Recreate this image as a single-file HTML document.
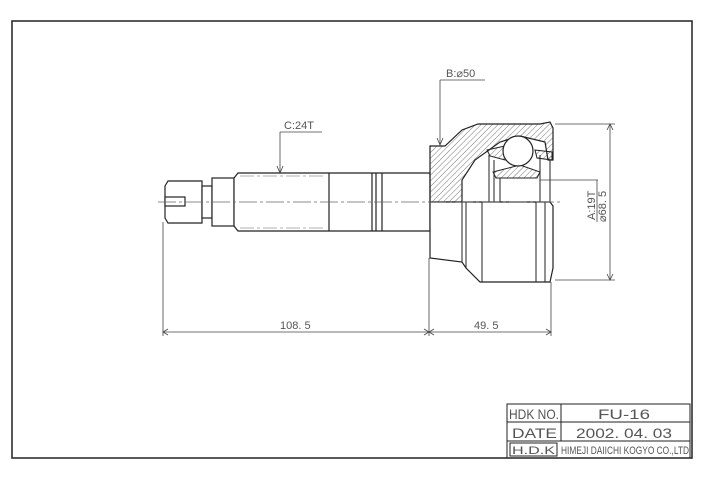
<!DOCTYPE html>
<html><head><meta charset="utf-8"><style>
html,body{margin:0;padding:0;background:#fff;}
svg{display:block;}
text{font-family:"Liberation Sans",sans-serif;fill:#555;}
</style></head><body>
<svg width="720" height="480" viewBox="0 0 720 480" xmlns="http://www.w3.org/2000/svg">
<defs>
<pattern id="h" patternUnits="userSpaceOnUse" width="4" height="4" patternTransform="rotate(45)">
<line x1="0" y1="0" x2="0" y2="4" stroke="#555" stroke-width="0.8"/>
</pattern>
</defs>
<rect x="12" y="21" width="680" height="437" fill="none" stroke="#222" stroke-width="1.5"/>
<!-- title block -->
<g stroke="#222" stroke-width="1" fill="none">
<rect x="507" y="404" width="183" height="54"/>
<line x1="507" y1="422" x2="690" y2="422"/>
<line x1="507" y1="441" x2="690" y2="441"/>
<line x1="561" y1="404" x2="561" y2="441"/>
<rect x="510" y="443" width="47" height="13"/>
</g>
<text x="509" y="419" font-size="14" textLength="50" lengthAdjust="spacingAndGlyphs">HDK NO.</text>
<text x="598" y="419" font-size="14" textLength="52" lengthAdjust="spacingAndGlyphs">FU-16</text>
<text x="512" y="438" font-size="14" textLength="45" lengthAdjust="spacingAndGlyphs">DATE</text>
<text x="576" y="438" font-size="14" textLength="96" lengthAdjust="spacingAndGlyphs">2002. 04. 03</text>
<text x="512" y="454" font-size="11" textLength="43" lengthAdjust="spacingAndGlyphs">H.D.K</text>
<text x="561" y="454" font-size="11" textLength="128" lengthAdjust="spacingAndGlyphs">HIMEJI DAIICHI KOGYO CO.,LTD</text>

<!-- shaft -->
<g stroke="#222" stroke-width="1.2" fill="#fff">
<path d="M168,181 L202,181 L202,223 L168,223 L165,218 L165,186 Z"/>
<rect x="202" y="186" width="10" height="32"/>
<rect x="212" y="178" width="22" height="48"/>
<path d="M234,178 L238,173 L430,173 L430,231 L238,231 L234,226 Z"/>
<line x1="329" y1="173" x2="329" y2="231"/>
<line x1="372" y1="173" x2="372" y2="231"/>
<line x1="376" y1="173" x2="376" y2="231"/>
<line x1="382" y1="173" x2="382" y2="231"/>
<rect x="165" y="197" width="20" height="9"/>
</g>
<g stroke="#999" stroke-width="0.7" stroke-dasharray="14,3,3,3">
<line x1="240" y1="176" x2="325" y2="176"/>
<line x1="240" y1="228" x2="325" y2="228"/>
</g>
<!-- joint -->
<path d="M430,146 L445,146 L462,130 L478,124 L540,124 L550,122 L553,128 L553,160 L548,160 L545,142 L520,136 L500,142 L475,160 L462,180 L462,202 L430,202 Z" fill="url(#h)" stroke="#222" stroke-width="1.2"/>
<path d="M430,202 L550,202 L553,206 L553,268 L550,282 L480,282 L466,268 L462,262 L430,258 Z" fill="#fff" stroke="#222" stroke-width="1.2"/>
<g stroke="#222" stroke-width="1" fill="none">
<line x1="462" y1="202" x2="462" y2="262"/>
<line x1="466" y1="202" x2="466" y2="268"/>
<line x1="482" y1="202" x2="482" y2="282"/>
<line x1="536" y1="202" x2="536" y2="282"/>
<line x1="545" y1="202" x2="545" y2="282"/>
<line x1="489" y1="155" x2="489" y2="202"/>
<line x1="494" y1="160" x2="494" y2="202"/>
<line x1="500" y1="178" x2="500" y2="202"/>
<line x1="540" y1="155" x2="540" y2="202"/>
<line x1="550" y1="160" x2="550" y2="202"/>
</g>
<path d="M493,172 L520,165 L540,172 L537,178 L496,178 Z" fill="url(#h)" stroke="#222" stroke-width="1"/>
<path d="M487,150 L505,146 L505,160 L490,156 Z M535,150 L552,152 L552,160 L537,158 Z" fill="url(#h)" stroke="#222" stroke-width="1"/>
<circle cx="518" cy="151" r="15" fill="#fff" stroke="#222" stroke-width="1.2"/>
<!-- centerline -->
<line x1="158" y1="202" x2="560" y2="202" stroke="#666" stroke-width="0.7" stroke-dasharray="18,3,3,3"/>
<!-- dimensions -->
<g stroke="#444" stroke-width="0.8" fill="none">
<line x1="163" y1="222" x2="163" y2="336"/>
<line x1="429" y1="258" x2="429" y2="336"/>
<line x1="551" y1="282" x2="551" y2="336"/>
<line x1="163" y1="332" x2="429" y2="332"/>
<line x1="429" y1="332" x2="551" y2="332"/>
<path d="M168,329 L163,332 L168,335 M424,329 L429,332 L424,335 M434,329 L429,332 L434,335 M546,329 L551,332 L546,335"/>
<line x1="555" y1="124" x2="615" y2="124"/>
<line x1="555" y1="280" x2="615" y2="280"/>
<line x1="610" y1="124" x2="610" y2="280"/>
<path d="M607,130 L610,124 L613,130 M607,274 L610,280 L613,274"/>
<line x1="540" y1="180" x2="598" y2="180"/>
<line x1="597" y1="180" x2="597" y2="222"/>
<line x1="440" y1="145" x2="440" y2="80"/>
<line x1="440" y1="80" x2="485" y2="80"/>
<path d="M437,138 L440,145 L443,138"/>
<line x1="280" y1="173" x2="280" y2="132"/>
<line x1="280" y1="132" x2="322" y2="132"/>
<path d="M277,166 L280,173 L283,166"/>
</g>
<text x="280" y="329" font-size="11">108. 5</text>
<text x="474" y="329" font-size="11">49. 5</text>
<text x="446" y="77" font-size="11">B:⌀50</text>
<text x="284" y="129" font-size="11">C:24T</text>
<text transform="translate(595,220) rotate(-90)" font-size="11">A:19T</text>
<text transform="translate(606,222) rotate(-90)" font-size="11">⌀68. 5</text>
</svg>
</body></html>
